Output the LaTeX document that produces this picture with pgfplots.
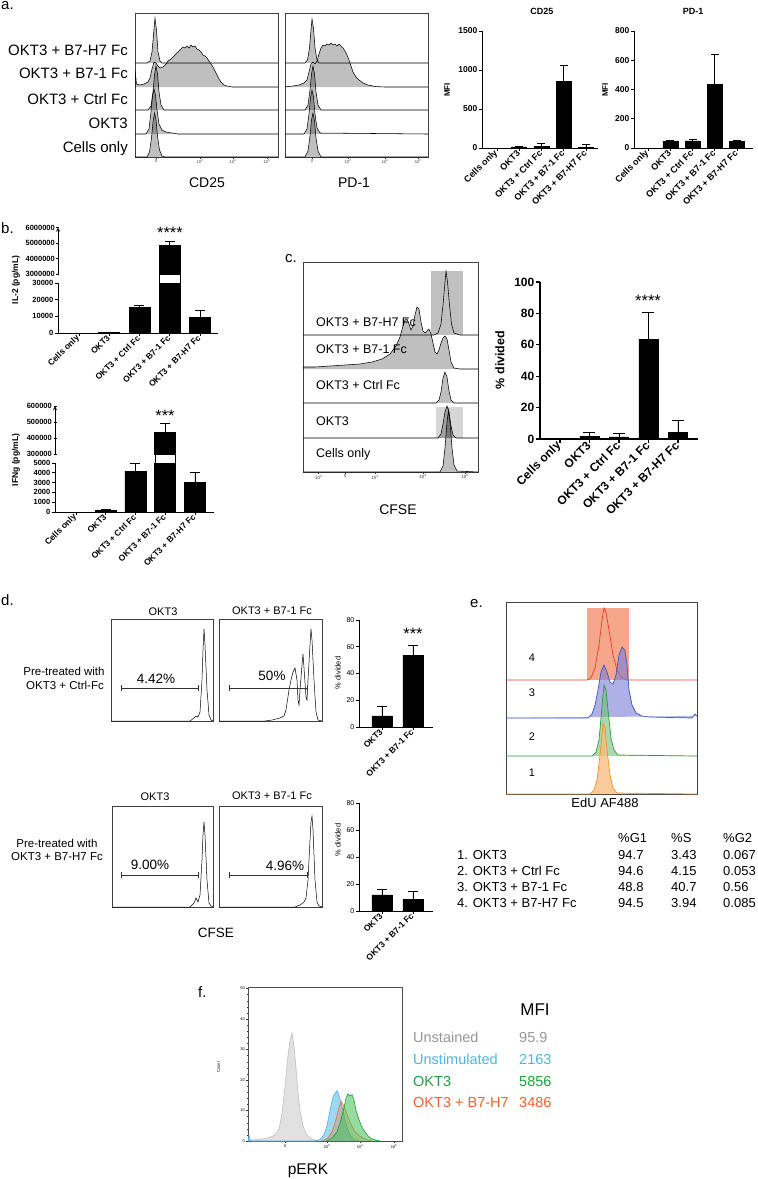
\documentclass[border=0pt]{standalone}
\usepackage{pgfplots}
\pgfplotsset{compat=1.18}
\usepackage{fontspec}
\setmainfont{Liberation Sans}

\newcommand\fs[1]{\fontsize{#1}{#1}\selectfont}

\definecolor{gategray}{RGB}{192,192,192}
\definecolor{gatelight}{RGB}{214,214,214}
\definecolor{salmon}{RGB}{246,166,138}
\definecolor{eRed}{RGB}{232,62,42}
\definecolor{eBlue}{RGB}{58,88,200}
\definecolor{eBlueF}{RGB}{120,124,214}
\definecolor{eGreen}{RGB}{44,156,60}
\definecolor{eGreenF}{RGB}{118,188,118}
\definecolor{eOrange}{RGB}{246,146,40}
\definecolor{eOrangeF}{RGB}{250,186,124}
\definecolor{fGray}{RGB}{185,185,185}
\definecolor{fGrayF}{RGB}{222,222,222}
\definecolor{fBlue}{RGB}{70,176,226}
\definecolor{fBlueF}{RGB}{122,198,236}
\definecolor{fGreen}{RGB}{28,156,52}
\definecolor{fGreenF}{RGB}{64,192,84}
\definecolor{fOrange}{RGB}{240,110,52}
\definecolor{tGray}{RGB}{150,150,150}
\definecolor{tBlue}{RGB}{80,178,226}
\definecolor{tGreen}{RGB}{30,160,60}
\definecolor{tOrange}{RGB}{242,96,48}

\pgfplotsset{
  hist/.style={scale only axis, anchor=south west, y dir=reverse,
    axis line style={line width=0.5pt, black!75},
    ytick=\empty, xtick pos=bottom, tick align=outside,
    major tick length=1.6pt, minor tick length=1pt,
    tick style={line width=0.4pt, black!80},
    xticklabel style={font=\fs{4}, inner sep=1pt, text=black!80}},
  hc/.style={draw=black, line width=0.55pt, fill=black, fill opacity=0.25},
  gp/.style={scale only axis, anchor=south west, ybar, bar shift=0pt,
    axis lines=left, axis line style={line width=0.9pt, -},
    tick align=outside, major tick length=3pt,
    tick style={line width=0.9pt, black},
    ymin=0, scaled y ticks=false,
    xticklabel style={rotate=45, anchor=east, inner sep=1pt},
    yticklabel style={inner sep=1.5pt}},
  bk/.style={fill=black, draw=black, line width=0.5pt,
    error bars/.cd, y dir=plus, y explicit,
    error bar style={line width=0.9pt, black},
    error mark options={rotate=90, mark size=#1, line width=0.9pt, black}},
}

\begin{document}
\begin{tikzpicture}[t/.style={inner sep=0pt}]

% ================= panel a: histograms =================
\begin{axis}[hist, at={(135pt,-157pt)}, width=143pt, height=144pt,
  xmin=135, xmax=278, ymin=13, ymax=157,
  xtick={156,200,233,267},
  xticklabels={0,10\textsuperscript{3},10\textsuperscript{4},10\textsuperscript{5}},
  minor xtick={140,145,150,162,168,174,180,186,192,210,215.7,219.9,223.1,225.7,227.9,229.8,231.5,243.2,249.2,253.5,256.8,259.5,261.7,263.7,265.4}]
\addplot[hc] coordinates {(135,63) (147,63) (150,61) (152,52) (153.5,35) (155,18) (156.5,30) (158,52) (160,61) (162,63) (278,63)};
\addplot[hc] coordinates {(135,87) (135,70) (136.5,84) (140,85) (144,84) (148,82) (150,78) (152,69) (154,62) (156,63) (158,66) (160,68) (163,67) (166,64) (168,61) (171,59) (174,56) (177,53) (179,51) (181,49) (183,47) (185,48) (187,46) (189,48) (191,45) (193,47) (195,46) (197,49) (199,50) (201,52) (203,55) (205,56) (207,58) (209,61) (211,64) (213,67) (215,71) (217,75) (219,79) (221,82) (224,85) (227,86) (232,87) (278,87)};
\addplot[hc] coordinates {(135,110) (148,110) (151,106) (153,92) (154.5,75) (156,66) (157.5,74) (159,92) (161,105) (164,110) (278,110)};
\addplot[hc] coordinates {(135,134) (146,134) (149,129) (151,112) (152.5,96) (154,89) (155.5,95) (157,110) (159,124) (162,130) (166,132) (172,133) (178,134) (278,134)};
\addplot[hc] coordinates {(135,157) (147,157) (149.5,152) (151.5,138) (153,122) (154.5,113) (156,120) (157.5,136) (159.5,150) (162,156) (165,157) (278,157)};
\end{axis}

\begin{axis}[hist, at={(285pt,-157pt)}, width=143pt, height=144pt,
  xmin=285, xmax=428, ymin=13, ymax=157,
  xtick={312,348,385,418},
  xticklabels={0,10\textsuperscript{3},10\textsuperscript{4},10\textsuperscript{5}},
  minor xtick={290,296,302,306,318,324,330,336,342,359,365.6,370.3,373.9,376.8,379.3,381.4,383.3,395,400.7,404.9,408.1,410.7,412.9,414.8,416.5}]
\addplot[hc] coordinates {(285,63) (305,63) (307.5,60) (309.5,48) (311,30) (312,19) (313.5,28) (315,48) (317,60) (319,63) (428,63)};
\addplot[hc] coordinates {(285,87) (288,86.5) (293,86) (299,85) (304,83) (307,80) (309,72) (311,64) (313,62) (315,64) (317,61) (319,54) (321,48) (323,45) (325,46) (327,44) (329,45) (331,43) (333,45) (335,44) (337,46) (339,44) (341,46) (343,48) (345,51) (347,55) (349,60) (351,66) (353,72) (356,77) (359,80) (363,83) (368,85) (375,86.5) (385,87) (428,87)};
\addplot[hc] coordinates {(285,110) (305,110) (308,105) (310,90) (311.5,74) (313,66) (314.5,74) (316,92) (318,105) (321,110) (428,110)};
\addplot[hc] coordinates {(285,134) (304,134) (307,129) (309,114) (310.5,98) (312,90) (313.5,97) (315,114) (317,128) (320,133) (428,134)};
\addplot[hc] coordinates {(285,157) (305,157) (308,151) (310,136) (311.5,120) (313,113) (314.5,121) (316,138) (318,151) (321,157) (428,157)};
\end{axis}

\node[t, anchor=base west, font=\fs{15}] at (1pt,-9pt) {a.};
\node[t, anchor=east, font=\fs{15}] at (128pt,-50pt) {OKT3 + B7-H7 Fc};
\node[t, anchor=east, font=\fs{15}] at (128pt,-73pt) {OKT3 + B7-1 Fc};
\node[t, anchor=east, font=\fs{15}] at (128pt,-99pt) {OKT3 + Ctrl Fc};
\node[t, anchor=east, font=\fs{15}] at (128pt,-123pt) {OKT3};
\node[t, anchor=east, font=\fs{15}] at (128pt,-149pt) {Cells only};
\node[t, font=\fs{14}] at (207pt,-183pt) {CD25};
\node[t, font=\fs{14}] at (354pt,-183pt) {PD-1};

% ================= panel a: MFI bars =================
\begin{axis}[gp, at={(482pt,-148pt)}, width=116pt, height=117pt,
  xmin=-0.674, xmax=4.54, ymax=1500, bar width=15pt,
  xtick={0,...,4},
  xticklabels={Cells only, OKT3, OKT3 + Ctrl Fc, OKT3 + B7-1 Fc, OKT3 + B7-H7 Fc},
  ytick={0,500,1000,1500}, yticklabels={0,500,1000,1500},
  yticklabel style={font=\fs{8.5}\bfseries},
  xticklabel style={font=\fs{9}\bfseries}]
\addplot[bk=4pt] coordinates {(0,0) +- (0,0) (1,15) +- (0,10) (2,20) +- (0,35) (3,855) +- (0,200) (4,10) +- (0,40)};
\end{axis}
\node[t, font=\fs{9}\bfseries] at (542pt,-11pt) {CD25};
\node[t, rotate=90, font=\fs{8}\bfseries] at (447pt,-90pt) {MFI};

\begin{axis}[gp, at={(634pt,-148pt)}, width=119pt, height=117pt,
  xmin=-0.63, xmax=4.72, ymax=800, bar width=15pt,
  xtick={0,...,4},
  xticklabels={Cells only, OKT3, OKT3 + Ctrl Fc, OKT3 + B7-1 Fc, OKT3 + B7-H7 Fc},
  ytick={0,200,400,600,800}, yticklabels={0,200,400,600,800},
  yticklabel style={font=\fs{8.5}\bfseries},
  xticklabel style={font=\fs{9}\bfseries}]
\addplot[bk=4pt] coordinates {(0,0) +- (0,0) (1,45) +- (0,5) (2,48) +- (0,13) (3,435) +- (0,204) (4,45) +- (0,5)};
\end{axis}
\node[t, font=\fs{9}\bfseries] at (693pt,-11pt) {PD-1};
\node[t, rotate=90, font=\fs{8}\bfseries] at (605pt,-90pt) {MFI};

% ================= panel b: IL-2 =================
\begin{axis}[gp, at={(58pt,-333pt)}, width=160pt, height=50pt,
  xmin=-0.694, xmax=4.595, ymax=30000, bar width=21pt,
  xtick={0,...,4},
  xticklabels={Cells only, OKT3, OKT3 + Ctrl Fc, OKT3 + B7-1 Fc, OKT3 + B7-H7 Fc},
  ytick={0,10000,20000,30000}, yticklabels={0,10000,20000,30000},
  yticklabel style={font=\fs{7.5}\bfseries},
  xticklabel style={font=\fs{8.5}\bfseries}]
\addplot[bk=5pt] coordinates {(0,0) +- (0,0) (1,300) +- (0,300) (2,15400) +- (0,1000) (3,4870000) +- (0,230000) (4,9400) +- (0,4000)};
\end{axis}
\begin{axis}[gp, at={(58pt,-274pt)}, width=160pt, height=46.5pt,
  axis x line=none, axis y line=left,
  xmin=-0.694, xmax=4.595, ymin=3000000, ymax=6000000, bar width=21pt,
  xtick=\empty,
  ytick={3000000,4000000,5000000,6000000},
  yticklabels={3000000,4000000,5000000,6000000},
  yticklabel style={font=\fs{7.5}\bfseries}]
\addplot[bk=5pt] coordinates {(3,4870000) +- (0,230000)};
\end{axis}
\draw[line width=0.7pt, fill=white] (159.4pt,-274pt) rectangle (180.1pt,-283pt);
\node[t, anchor=base west, font=\fs{15}] at (1pt,-233pt) {b.};
\node[t, anchor=north, font=\fs{16.5}] at (170pt,-226.5pt) {****};
\node[t, rotate=90, font=\fs{8.5}\bfseries] at (16pt,-280pt) {IL-2 (pg/mL)};

% ================= panel b: IFNg =================
\begin{axis}[gp, at={(55pt,-512pt)}, width=159pt, height=49pt,
  xmin=-0.706, xmax=4.64, ymax=5000, bar width=21pt,
  xtick={0,...,4},
  xticklabels={Cells only, OKT3, OKT3 + Ctrl Fc, OKT3 + B7-1 Fc, OKT3 + B7-H7 Fc},
  ytick={0,1000,2000,3000,4000,5000}, yticklabels={0,1000,2000,3000,4000,5000},
  yticklabel style={font=\fs{7.5}\bfseries},
  xticklabel style={font=\fs{8.5}\bfseries}]
\addplot[bk=5pt] coordinates {(0,0) +- (0,0) (1,150) +- (0,120) (2,4180) +- (0,790) (3,433000) +- (0,59000) (4,3030) +- (0,980)};
\end{axis}
\begin{axis}[gp, at={(55pt,-454pt)}, width=159pt, height=48pt,
  axis x line=none, axis y line=left,
  xmin=-0.706, xmax=4.64, ymin=300000, ymax=600000, bar width=21pt,
  xtick=\empty,
  ytick={300000,400000,500000,600000},
  yticklabels={300000,400000,500000,600000},
  yticklabel style={font=\fs{7.5}\bfseries}]
\addplot[bk=5pt] coordinates {(3,433000) +- (0,59000)};
\end{axis}
\draw[line width=0.7pt, fill=white] (154.9pt,-454pt) rectangle (175.6pt,-463pt);
\node[t, anchor=north, font=\fs{16.5}] at (165pt,-409.5pt) {***};
\node[t, rotate=90, font=\fs{8.5}\bfseries] at (16pt,-460pt) {IFNg (pg/mL)};

% ================= panel c: CFSE histogram =================
\begin{axis}[hist, at={(303pt,-472pt)}, width=175pt, height=210pt,
  xmin=303, xmax=478, ymin=262, ymax=472,
  xtick={318,345,375,423,465},
  xticklabels={-10\textsuperscript{3},0,10\textsuperscript{3},10\textsuperscript{4},10\textsuperscript{5}},
  xticklabel style={font=\fs{4.5}},
  minor xtick={306,312,324,330,336,340,350,356,362,368,389.4,397.9,403.9,408.5,412.3,415.6,418.3,420.8,435.6,443,448.3,452.4,455.7,458.5,461,463.1}]
\addplot[draw=none, fill=gategray] coordinates {(431,335) (431,271) (463,271) (463,335)};
\addplot[draw=none, fill=gatelight] coordinates {(436,438) (436,407) (463,407) (463,438)};
\addplot[draw=black, line width=0.55pt] coordinates {(303,335) (434,335) (438,333) (441,324) (443,305) (445,282) (446,271) (447.5,282) (449.5,305) (451.5,324) (454,333) (460,335) (478,335)};
\addplot[hc] coordinates {(303,369) (303,367) (315,367) (330,366) (345,365) (360,364) (372,362) (382,359) (390,354) (396,346) (400,337) (403,326) (405,320) (407,319) (409,324) (411,330) (413,326) (415,315) (417,307) (419,309) (421,322) (423,331) (425,333) (427,331) (429,329) (431,334) (433,343) (435,352) (437,354) (439,350) (441,343) (443,338) (445,336) (447,339) (449,350) (451,362) (454,368) (460,369) (478,369)};
\addplot[hc] coordinates {(303,403) (436,403) (439,400) (441,392) (443,378) (445,372) (447,377) (449,391) (451,400) (454,403) (478,403)};
\addplot[hc] coordinates {(303,438) (438,438) (441,434) (443,424) (445,412) (447,406) (449,412) (451,426) (453,435) (456,438) (478,438)};
\addplot[hc] coordinates {(303,472) (440,472) (443,466) (445,448) (447,422) (448.5,410) (450,422) (452,448) (454,465) (457,471) (478,472)};
\end{axis}
\node[t, anchor=base west, font=\fs{15}] at (285pt,-262pt) {c.};
\node[t, anchor=west, font=\fs{12.5}] at (316pt,-322pt) {OKT3 + B7-H7 Fc};
\node[t, anchor=west, font=\fs{12.5}] at (316pt,-349pt) {OKT3 + B7-1 Fc};
\node[t, anchor=west, font=\fs{12.5}] at (316pt,-385pt) {OKT3 + Ctrl Fc};
\node[t, anchor=west, font=\fs{12.5}] at (316pt,-421pt) {OKT3};
\node[t, anchor=west, font=\fs{12.5}] at (316pt,-454pt) {Cells only};
\node[t, font=\fs{14}] at (398pt,-510pt) {CFSE};

% ================= panel c: % divided =================
\begin{axis}[gp, at={(540pt,-439pt)}, width=158pt, height=157pt,
  axis line style={line width=1.2pt, -}, tick style={line width=1.2pt, black},
  major tick length=4pt,
  xmin=-0.678, xmax=4.68, ymax=100, bar width=19pt,
  xtick={0,...,4},
  xticklabels={Cells only, OKT3, OKT3 + Ctrl Fc, OKT3 + B7-1 Fc, OKT3 + B7-H7 Fc},
  ytick={0,20,40,60,80,100}, yticklabels={0,20,40,60,80,100},
  ticklabel style={font=\fs{12}\bfseries}]
\addplot[bk=6pt] coordinates {(0,0) +- (0,0) (1,1.7) +- (0,2.7) (2,1.3) +- (0,2.5) (3,63.6) +- (0,16.9) (4,4.4) +- (0,7.2)};
\end{axis}
\node[t, anchor=north, font=\fs{16.5}] at (648pt,-294.5pt) {****};
\node[t, rotate=90, font=\fs{12.5}\bfseries] at (500pt,-360pt) {\% divided};

% ================= panel d =================
\begin{axis}[hist, at={(111pt,-721pt)}, width=102pt, height=102pt,
  xmin=111, xmax=213, ymin=619, ymax=721, xtick=\empty]
\addplot[draw=black, line width=0.5pt] coordinates {(111,721) (190,721) (194,718) (196,716) (198,717) (200,712) (202,680) (203,650) (204,629) (205,645) (207,690) (209,715) (211,720) (213,721)};
\draw[line width=0.5pt, black!80] (121,688) -- (198,688) (121,685) -- (121,691) (198,685) -- (198,691);
\end{axis}
\begin{axis}[hist, at={(219pt,-721pt)}, width=103pt, height=102pt,
  xmin=219, xmax=322, ymin=619, ymax=721, xtick=\empty]
\addplot[draw=black, line width=0.5pt] coordinates {(219,721) (265,721) (272,720) (280,718) (284,716) (286,710) (289,690) (291,680) (293,672) (295,668) (297,680) (298,700) (299,705) (300,690) (302,665) (303,654) (304,668) (306,697) (307,700) (308,680) (310,645) (311,629) (312,640) (314,680) (316,712) (318,720) (322,721)};
\draw[line width=0.5pt, black!80] (229,688) -- (307,688) (229,685) -- (229,691) (307,685) -- (307,691);
\end{axis}
\begin{axis}[hist, at={(112pt,-907pt)}, width=101pt, height=101pt,
  xmin=112, xmax=213, ymin=806, ymax=907, xtick=\empty]
\addplot[draw=black, line width=0.5pt] coordinates {(112,907) (190,907) (194,903) (196,898) (198,902) (200,895) (202,860) (203,835) (204,822) (205,835) (207,880) (209,903) (211,906) (213,907)};
\draw[line width=0.5pt, black!80] (121,875) -- (198,875) (121,872) -- (121,878) (198,872) -- (198,878);
\end{axis}
\begin{axis}[hist, at={(219pt,-907pt)}, width=103pt, height=101pt,
  xmin=219, xmax=322, ymin=806, ymax=907, xtick=\empty]
\addplot[draw=black, line width=0.5pt] coordinates {(219,907) (295,907) (300,905) (304,902) (306,898) (308,880) (310,840) (311,822) (312,816) (313,830) (315,880) (317,902) (319,906) (322,907)};
\draw[line width=0.5pt, black!80] (229,875) -- (307,875) (229,872) -- (229,878) (307,872) -- (307,878);
\end{axis}
\node[t, anchor=base west, font=\fs{15}] at (1pt,-605pt) {d.};
\node[t, font=\fs{11}] at (163pt,-612pt) {OKT3};
\node[t, font=\fs{11}] at (272pt,-611pt) {OKT3 + B7-1 Fc};
\node[t, font=\fs{11}] at (155pt,-797pt) {OKT3};
\node[t, font=\fs{11}] at (272pt,-796pt) {OKT3 + B7-1 Fc};
\node[t, font=\fs{11.5}] at (64pt,-671pt) {Pre-treated with};
\node[t, font=\fs{11.5}] at (65pt,-685pt) {OKT3 + Ctrl-Fc};
\node[t, font=\fs{11.5}] at (57pt,-843pt) {Pre-treated with};
\node[t, font=\fs{11.5}] at (57pt,-857pt) {OKT3 + B7-H7 Fc};
\node[t, font=\fs{13.5}] at (156pt,-679pt) {4.42\%};
\node[t, font=\fs{13.5}] at (272pt,-676pt) {50\%};
\node[t, font=\fs{13.5}] at (150pt,-865pt) {9.00\%};
\node[t, font=\fs{13.5}] at (285pt,-866pt) {4.96\%};
\node[t, font=\fs{13.5}] at (216pt,-933pt) {CFSE};

\begin{axis}[gp, at={(359pt,-727pt)}, width=74pt, height=107pt,
  axis line style={line width=0.8pt, -}, tick style={line width=0.8pt, black},
  xmin=-0.74, xmax=1.645, ymax=80, bar width=20pt,
  xtick={0,1}, xticklabels={OKT3, OKT3 + B7-1 Fc},
  ytick={0,20,40,60,80}, yticklabels={0,20,40,60,80},
  yticklabel style={font=\fs{7}},
  xticklabel style={font=\fs{8.5}\bfseries}]
\addplot[bk=5pt] coordinates {(0,8.4) +- (0,7.3) (1,53.8) +- (0,7)};
\end{axis}
\node[t, anchor=north, font=\fs{16.5}] at (413pt,-627.5pt) {***};
\node[t, rotate=90, font=\fs{7.5}] at (338pt,-673pt) {\% divided};

\begin{axis}[gp, at={(359pt,-911pt)}, width=74pt, height=108pt,
  axis line style={line width=0.8pt, -}, tick style={line width=0.8pt, black},
  xmin=-0.74, xmax=1.645, ymax=80, bar width=20pt,
  xtick={0,1}, xticklabels={OKT3, OKT3 + B7-1 Fc},
  ytick={0,20,40,60,80}, yticklabels={0,20,40,60,80},
  yticklabel style={font=\fs{7}},
  xticklabel style={font=\fs{8.5}\bfseries}]
\addplot[bk=5pt] coordinates {(0,11.9) +- (0,4.4) (1,8.7) +- (0,5.6)};
\end{axis}
\node[t, rotate=90, font=\fs{7.5}] at (338pt,-840pt) {\% divided};

% ================= panel e =================
\begin{axis}[hist, at={(506pt,-794pt)}, width=191pt, height=192pt,
  xmin=506, xmax=697, ymin=602, ymax=794, xtick=\empty]
\addplot[draw=none, fill=salmon] coordinates {(587,680) (587,608) (629,608) (629,680)};
\addplot[draw=eRed, line width=0.7pt] coordinates {(506,680) (587,680) (591,678) (595,668) (599,645) (602,620) (604,608) (606,612) (609,630) (613,655) (617,670) (621,677) (627,680) (697,680)};
\addplot[draw=eBlue, line width=0.7pt, fill=eBlueF, fill opacity=0.6] coordinates {(506,718) (588,718) (592,714) (595,705) (598,690) (601,672) (604,665) (607,672) (610,682) (613,684) (616,675) (619,655) (622,647) (625,650) (627,665) (629,690) (632,705) (636,713) (642,716) (650,717) (692,718) (695,714) (697,716)};
\addplot[draw=eGreen, line width=0.7pt, fill=eGreenF, fill opacity=0.6] coordinates {(506,756) (592,756) (596,752) (599,740) (601,718) (603,695) (604,685) (606,690) (608,710) (611,738) (614,750) (618,755) (697,756)};
\addplot[draw=eOrange, line width=0.7pt, fill=eOrangeF, fill opacity=0.75] coordinates {(506,794) (590,794) (594,790) (597,780) (600,755) (602,735) (603,723) (605,728) (607,750) (610,775) (613,788) (617,793) (697,794)};
\end{axis}
\node[t, anchor=base west, font=\fs{15}] at (470pt,-607pt) {e.};
\node[t, font=\fs{11}] at (532pt,-658pt) {4};
\node[t, font=\fs{11}] at (532pt,-693pt) {3};
\node[t, font=\fs{11}] at (532pt,-737pt) {2};
\node[t, font=\fs{11}] at (532pt,-773pt) {1};
\node[t, font=\fs{13}] at (605pt,-803pt) {EdU AF488};
\node[t, anchor=west, font=\fs{13}] at (618pt,-838pt) {\%G1};
\node[t, anchor=west, font=\fs{13}] at (671pt,-838pt) {\%S};
\node[t, anchor=west, font=\fs{13}] at (723pt,-838pt) {\%G2};
\node[t, anchor=west, font=\fs{13}] at (457pt,-855pt) {1. OKT3};
\node[t, anchor=west, font=\fs{13}] at (457pt,-871pt) {2. OKT3 + Ctrl Fc};
\node[t, anchor=west, font=\fs{13}] at (457pt,-887pt) {3. OKT3 + B7-1 Fc};
\node[t, anchor=west, font=\fs{13}] at (457pt,-903pt) {4. OKT3 + B7-H7 Fc};
\node[t, anchor=west, font=\fs{13}] at (618pt,-855pt) {94.7};
\node[t, anchor=west, font=\fs{13}] at (618pt,-871pt) {94.6};
\node[t, anchor=west, font=\fs{13}] at (618pt,-887pt) {48.8};
\node[t, anchor=west, font=\fs{13}] at (618pt,-903pt) {94.5};
\node[t, anchor=west, font=\fs{13}] at (671pt,-855pt) {3.43};
\node[t, anchor=west, font=\fs{13}] at (671pt,-871pt) {4.15};
\node[t, anchor=west, font=\fs{13}] at (671pt,-887pt) {40.7};
\node[t, anchor=west, font=\fs{13}] at (671pt,-903pt) {3.94};
\node[t, anchor=west, font=\fs{13}] at (723pt,-855pt) {0.067};
\node[t, anchor=west, font=\fs{13}] at (723pt,-871pt) {0.053};
\node[t, anchor=west, font=\fs{13}] at (723pt,-887pt) {0.56};
\node[t, anchor=west, font=\fs{13}] at (723pt,-903pt) {0.085};

% ================= panel f =================
\begin{axis}[scale only axis, anchor=south west, at={(248pt,-1141pt)},
  width=154pt, height=154pt,
  xmin=248, xmax=402, ymin=0, ymax=50.5,
  axis line style={line width=0.5pt, black!70},
  tick align=outside, xtick pos=bottom, ytick pos=left,
  major tick length=2pt, minor tick length=1.2pt,
  tick style={line width=0.4pt, black!80},
  xtick={285,327,360,394},
  xticklabels={0,10\textsuperscript{3},10\textsuperscript{4},10\textsuperscript{5}},
  minor xtick={255,262,269,276,292,299,306,313,320,337,342.7,346.9,350.1,352.7,354.9,356.8,358.5,370.2,376.2,380.5,383.8,386.5,388.7,390.7,392.4},
  ytick={0,10,20,30,40,50}, yticklabels={0,10,20,30,40,50},
  minor y tick num=4,
  ticklabel style={font=\fs{4}, inner sep=1pt}]
\addplot[draw=fGray, line width=0.5pt, fill=fGrayF, fill opacity=0.9] coordinates {(248,0) (250,0.3) (258,0.5) (265,0.8) (270,1.2) (275,2) (279,4) (282,9) (285,18) (288,28) (290,33) (292,35.5) (294,31) (296,24) (298,16) (300,10) (303,5) (306,2.5) (310,1) (315,0.3) (320,0)};
\addplot[draw=fBlue, line width=0.6pt, fill=fBlueF, fill opacity=0.7] coordinates {(248,0) (249,1.8) (250,0.2) (252,0) (315,0) (320,0.5) (324,2) (327,5) (330,10) (333,14.5) (335,15.5) (337,16.5) (339,15) (341,12.5) (343,10) (345,7) (348,3.5) (351,1.5) (355,0.3) (360,0)};
\addplot[draw=fOrange, line width=0.6pt, fill=fOrange, fill opacity=0.3] coordinates {(322,0) (328,1) (332,3) (336,7) (339,11) (341,13) (343,12) (345,10.5) (348,8) (351,5.5) (355,3) (360,1.5) (366,0.5) (372,0)};
\addplot[draw=fGreen, line width=0.6pt, fill=fGreenF, fill opacity=0.55] coordinates {(326,0) (332,1) (337,3) (341,7) (344,11) (346,14) (348,15.5) (350,14.8) (352,15.2) (354,13.5) (356,10) (359,7) (362,4.5) (366,2.5) (370,1) (376,0.3) (380,0)};
\end{axis}
\node[t, anchor=base west, font=\fs{15}] at (198pt,-997pt) {f.};
\node[t, rotate=90, font=\fs{4}] at (218.5pt,-1067pt) {Count};
\node[t, font=\fs{15.5}] at (308pt,-1171pt) {pERK};
\node[t, font=\fs{17}] at (535pt,-1010pt) {MFI};
\node[t, anchor=west, font=\fs{14.5}, text=tGray] at (413pt,-1037pt) {Unstained};
\node[t, anchor=west, font=\fs{14.5}, text=tBlue] at (413pt,-1059pt) {Unstimulated};
\node[t, anchor=west, font=\fs{14.5}, text=tGreen] at (413pt,-1081pt) {OKT3};
\node[t, anchor=west, font=\fs{14.5}, text=tOrange] at (413pt,-1102pt) {OKT3 + B7-H7};
\node[t, anchor=west, font=\fs{14.5}, text=tGray] at (519pt,-1037pt) {95.9};
\node[t, anchor=west, font=\fs{14.5}, text=tBlue] at (519pt,-1059pt) {2163};
\node[t, anchor=west, font=\fs{14.5}, text=tGreen] at (519pt,-1081pt) {5856};
\node[t, anchor=west, font=\fs{14.5}, text=tOrange] at (519pt,-1102pt) {3486};

\pgfresetboundingbox
\useasboundingbox (0pt,0pt) rectangle (758pt,-1179pt);
\end{tikzpicture}
\end{document}
